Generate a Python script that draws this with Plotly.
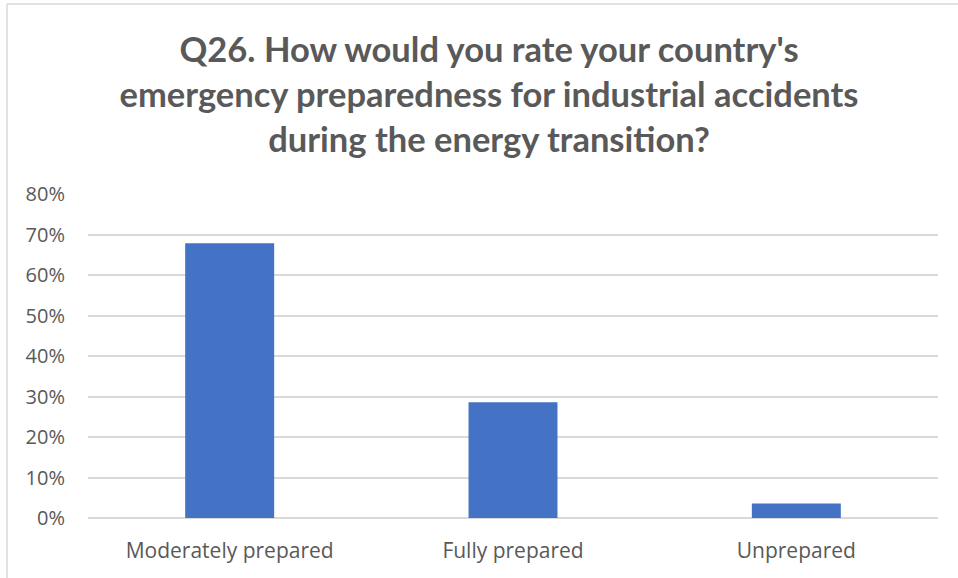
import plotly.graph_objects as go

# Survey responses (share of respondents)
categories = ["Moderately prepared", "Fully prepared", "Unprepared"]
shares = [0.6786, 0.2857, 0.0357]
y_ticks = [0, 0.1, 0.2, 0.3, 0.4, 0.5, 0.6, 0.7, 0.8]

title_text = ("Q26. How would you rate your country's<br>"
              "emergency preparedness for industrial accidents<br>"
              "during the energy transition?")

TEXT = "#595959"
GRID = "#D9D9D9"
BAR = "#4472C4"
W, H = 958, 578
L, R, T, B = 88, 20, 194, 60

fig = go.Figure(
    go.Bar(
        x=categories,
        y=shares,
        marker=dict(color=BAR, line=dict(width=0)),
        hoverinfo="x+y",
    )
)

# frame lines around the chart area (top and left edges)
pw, ph = W - L - R, H - T - B
def px_x(p):
    return (p - L) / pw
def px_y(p):
    return (H - B - p) / ph

frame = dict(color=GRID, width=1.5)
fig.add_shape(type="line", xref="paper", yref="paper",
              x0=px_x(7), x1=px_x(958), y0=px_y(4), y1=px_y(4), line=frame)
fig.add_shape(type="line", xref="paper", yref="paper",
              x0=px_x(7), x1=px_x(7), y0=px_y(4), y1=px_y(578), line=frame)

fig.update_layout(
    width=W,
    height=H,
    margin=dict(l=L, r=R, t=T, b=B, pad=0),
    paper_bgcolor="white",
    plot_bgcolor="white",
    bargap=0.686,
    showlegend=False,
    title=dict(
        text=title_text,
        x=489 / W,
        xanchor="center",
        xref="container",
        y=1 - 62 / H,
        yanchor="top",
        yref="container",
        font=dict(family="Lato, sans-serif",
                  size=34.5, color=TEXT, weight="bold"),
    ),
    xaxis=dict(
        type="category",
        showgrid=False,
        showline=False,
        ticks="",
        ticklabelstandoff=18,
        tickfont=dict(family="Open Sans, sans-serif", size=21, color=TEXT),
    ),
    yaxis=dict(
        range=[0, 0.8],
        tickvals=y_ticks,
        tickformat=".0%",
        showgrid=True,
        gridcolor=GRID,
        gridwidth=1.5,
        zeroline=True,
        zerolinecolor=GRID,
        zerolinewidth=1.5,
        showline=False,
        ticks="",
        ticklabelstandoff=22,
        tickfont=dict(family="Open Sans, sans-serif", size=20, color=TEXT),
    ),
)

fig.write_html("out.html")
